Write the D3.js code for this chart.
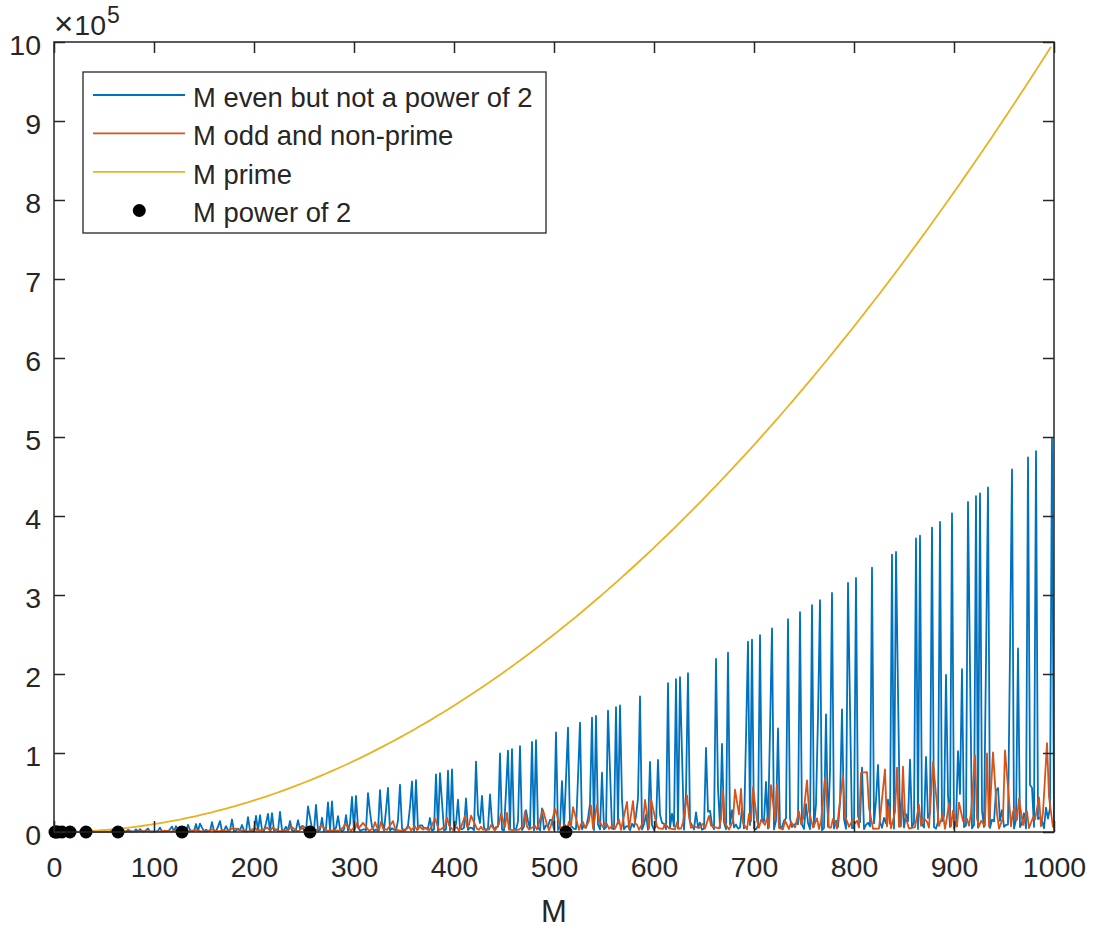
<!DOCTYPE html>
<html><head><meta charset="utf-8">
<script src="https://cdn.jsdelivr.net/npm/d3@7"></script>
<style>
body{margin:0;background:#fff}
svg{display:block}
text{font-family:"Liberation Sans",Arial,Helvetica,sans-serif;fill:#262626}
</style>
</head><body><svg id="chart" width="1093" height="929"></svg>
<script>
// values are in thousands (y axis labelled in units of 10^5)
const evenNotPow2 = [[6,0.0],[10,0.1],[12,0.0],[14,0.1],[18,0.1],[20,0.1],[22,0.2],[24,0.1],[26,0.3],[28,0.2],[30,0.1],[34,0.6],[36,0.1],[38,0.7],[40,0.2],[42,0.2],[44,0.5],[46,1.1],[48,0.1],[50,0.3],[52,0.7],[54,0.2],[56,0.4],[58,1.7],[60,0.3],[62,1.9],[66,0.4],[68,1.2],[70,0.4],[72,0.3],[74,2.7],[76,1.4],[78,0.6],[80,0.4],[82,3.4],[84,0.4],[86,3.7],[88,1.0],[90,0.4],[92,2.1],[94,4.4],[96,0.3],[98,0.8],[100,0.6],
[102,0.9],[104,1.4],[106,5.6],[108,0.5],[110,0.8],[112,0.8],[114,1.1],[116,3.4],[118,7.0],[120,0.6],[122,7.4],[124,3.8],[126,0.6],[130,1.0],[132,0.9],[134,9.0],[136,2.3],[138,1.5],[140,0.9],[142,10.1],[144,0.6],[146,10.7],[148,5.5],[150,0.8],[152,2.9],[154,1.3],[156,1.1],[158,12.5],[160,0.8],[162,0.7],[164,6.7],[166,13.8],[168,0.9],[170,1.4],[172,7.4],[174,2.2],[176,1.9],[178,15.8],[180,0.8],[182,1.6],[184,4.2],[186,2.5],[188,8.8],[190,1.7],[192,0.6],[194,18.8],[196,1.6],[198,1.0],[200,1.2],
[202,20.4],[204,1.8],[206,21.2],[208,2.7],[210,1.1],[212,11.2],[214,22.9],[216,0.9],[218,23.8],[220,1.6],[222,3.4],[224,1.6],[226,25.5],[228,2.1],[230,2.2],[232,6.7],[234,1.3],[236,13.9],[238,2.2],[240,1.1],[242,2.9],[244,14.9],[246,4.1],[248,7.7],[250,1.6],[252,1.2],[254,32.3],[258,4.5],[260,2.0],[262,34.3],[264,1.8],[266,2.6],[268,18.0],[270,1.2],[272,4.6],[274,37.5],[276,2.9],[278,38.6],[280,1.8],[282,5.3],[284,20.2],[286,3.5],[288,1.2],[290,3.1],[292,21.3],[294,1.7],[296,11.0],[298,44.4],[300,1.5],
[302,45.6],[304,5.8],[306,1.8],[308,2.6],[310,3.5],[312,2.3],[314,49.3],[316,25.0],[318,6.6],[320,1.6],[322,3.3],[324,1.4],[326,53.1],[328,13.4],[330,1.8],[332,27.6],[334,55.8],[336,1.8],[338,4.7],[340,2.9],[342,2.1],[344,14.8],[346,59.9],[348,4.4],[350,2.2],[352,3.9],[354,8.0],[356,31.7],[358,64.1],[360,1.6],[362,65.5],[364,3.2],[366,8.5],[368,8.5],[370,4.6],[372,5.0],[374,4.7],[376,17.7],[378,1.7],[380,3.3],[382,73.0],[384,1.2],[386,74.5],[388,37.6],[390,2.2],[392,3.1],[394,77.6],[396,2.1],[398,79.2],[400,2.4],
[402,10.2],[404,40.8],[406,4.5],[408,3.5],[410,5.4],[412,42.4],[414,2.7],[416,5.4],[418,5.3],[420,2.2],[422,89.0],[424,22.5],[426,11.4],[428,45.8],[430,5.8],[432,1.9],[434,5.0],[436,47.5],[438,12.0],[440,3.2],[442,6.3],[444,6.8],[446,99.5],[448,3.1],[450,2.1],[452,51.1],[454,103.1],[456,4.3],[458,104.9],[460,4.4],[462,2.7],[464,13.5],[466,108.6],[468,2.5],[470,6.8],[472,27.8],[474,13.9],[476,4.5],[478,114.2],[480,2.2],[482,116.2],[484,5.8],[486,2.2],[488,29.8],[490,3.2],[492,8.2],[494,7.1],[496,15.4],[498,15.3],[500,3.1],
[502,126.0],[504,2.4],[506,6.6],[508,64.5],[510,3.0],[514,132.1],[516,8.9],[518,6.4],[520,4.0],[522,3.8],[524,68.6],[526,138.3],[528,3.5],[530,8.3],[532,5.2],[534,17.4],[536,35.9],[538,144.7],[540,2.4],[542,146.9],[544,9.2],[546,3.3],[548,75.1],[550,3.5],[552,5.9],[554,153.5],[556,77.3],[558,4.2],[560,3.6],[562,157.9],[564,10.5],[566,160.2],[568,40.3],[570,3.4],[572,7.0],[574,7.4],[576,2.3],[578,10.4],[580,6.3],[582,20.6],[584,42.6],[586,171.7],[588,3.3],[590,9.9],[592,21.9],[594,2.8],[596,88.8],[598,8.8],[600,3.0],
[602,7.9],[604,91.2],[606,22.2],[608,11.6],[610,10.5],[612,3.6],[614,188.5],[616,5.3],[618,23.1],[620,6.9],[622,193.4],[624,4.6],[626,195.9],[628,98.6],[630,3.0],[632,49.9],[634,201.0],[636,13.1],[638,8.7],[640,3.2],[642,24.8],[644,6.6],[646,11.7],[648,2.9],[650,4.2],[652,106.3],[654,25.7],[656,26.9],[658,9.0],[660,3.6],[662,219.1],[664,55.1],[666,5.4],[668,111.6],[670,12.3],[672,3.6],[674,227.1],[676,9.5],[678,27.6],[680,5.7],[682,9.4],[684,4.2],[686,5.6],[688,29.6],[690,4.3],[692,119.7],[694,240.8],[696,8.8],[698,243.6],[700,4.4],
[702,3.4],[704,7.7],[706,249.2],[708,16.0],[710,13.6],[712,63.4],[714,4.4],[716,128.2],[718,257.8],[720,3.3],[722,14.4],[724,131.0],[726,5.1],[728,6.4],[730,14.3],[732,17.1],[734,269.4],[736,16.9],[738,6.3],[740,9.2],[742,10.8],[744,9.9],[746,278.3],[748,9.4],[750,3.8],[752,35.3],[754,11.5],[756,3.5],[758,287.3],[760,6.7],[762,34.5],[764,145.9],[766,293.4],[768,2.3],[770,5.2],[772,149.0],[774,6.8],[776,75.3],[778,302.6],[780,4.3],[782,14.4],[784,6.3],[786,36.7],[788,155.2],[790,16.4],[792,4.1],[794,315.2],[796,158.4],[798,5.0],[800,4.8],
[802,321.6],[804,20.4],[806,12.4],[808,81.6],[810,3.7],[812,9.0],[814,11.7],[816,7.1],[818,334.6],[820,10.8],[822,40.0],[824,84.9],[826,12.7],[828,5.4],[830,17.9],[832,10.8],[834,41.1],[836,10.6],[838,351.1],[840,4.3],[842,354.5],[844,178.1],[846,7.8],[848,44.9],[850,5.7],[852,22.7],[854,13.4],[856,91.6],[858,6.1],[860,11.7],[862,371.5],[864,3.7],[866,375.0],[868,9.9],[870,5.7],[872,95.0],[874,17.7],[876,23.9],[878,385.4],[880,6.3],[882,4.3],[884,12.6],[886,392.5],[888,13.6],[890,20.3],[892,198.9],[894,47.1],[896,6.3],[898,403.2],[900,4.2],
[902,13.3],[904,102.2],[906,48.3],[908,206.1],[910,6.2],[912,8.5],[914,417.7],[916,209.8],[918,4.6],[920,8.8],[922,425.0],[924,5.4],[926,428.7],[928,26.9],[930,6.3],[932,217.2],[934,436.2],[936,5.1],[938,15.5],[940,13.5],[942,52.1],[944,55.7],[946,14.1],[948,27.8],[950,6.4],[952,9.0],[954,9.4],[956,228.5],[958,458.9],[960,4.5],[962,15.2],[964,232.3],[966,6.2],[968,11.6],[970,23.7],[972,4.4],[974,474.3],[976,59.5],[978,56.1],[980,6.5],[982,482.2],[984,16.4],[986,18.4],[988,14.3],[990,4.8],[992,30.8],[994,17.0],[996,30.5],[998,498.0],[1000,6.2]];

const oddNonPrime = [[9,0.0],[15,0.1],[21,0.1],[25,0.2],[27,0.1],[33,0.2],[35,0.2],[39,0.3],[45,0.2],[49,0.4],[51,0.4],[55,0.4],[57,0.5],[63,0.3],[65,0.5],[69,0.7],[75,0.4],[77,0.7],[81,0.4],[85,0.7],[87,1.1],[91,0.8],[93,1.2],[95,0.8],[99,0.5],
[105,0.5],[111,1.7],[115,1.1],[117,0.6],[119,1.1],[121,1.5],[123,2.1],[125,0.8],[129,2.2],[133,1.3],[135,0.6],[141,2.6],[143,1.7],[145,1.6],[147,0.8],[153,0.9],[155,1.7],[159,3.3],[161,1.7],[165,0.9],[169,2.4],[171,1.0],[175,1.1],[177,4.0],[183,4.3],[185,2.3],[187,2.3],[189,0.9],[195,1.1],
[201,5.1],[203,2.3],[205,2.7],[207,1.4],[209,2.7],[213,5.7],[215,2.9],[217,2.5],[219,6.0],[221,3.2],[225,1.1],[231,1.4],[235,3.4],[237,7.0],[243,1.1],[245,1.6],[247,3.6],[249,7.6],[253,3.3],[255,1.5],[259,3.2],[261,1.9],[265,4.1],[267,8.7],[273,1.6],[275,1.8],[279,2.1],[285,1.7],[287,3.7],[289,5.2],[291,10.3],[295,5.0],[297,1.4],[299,4.4],
[301,4.0],[303,11.1],[305,5.2],[309,11.5],[315,1.5],[319,4.4],[321,12.4],[323,5.9],[325,2.1],[327,12.9],[329,4.5],[333,2.7],[335,6.2],[339,13.8],[341,4.7],[343,2.8],[345,2.1],[351,1.7],[355,6.8],[357,2.2],[361,7.2],[363,2.5],[365,7.2],[369,3.2],[371,5.4],[375,1.9],[377,5.7],[381,17.3],[385,2.6],[387,3.4],[391,7.2],[393,18.3],[395,8.2],[399,2.5],
[403,6.2],[405,1.8],[407,5.8],[411,20.0],[413,6.4],[415,9.0],[417,20.6],[423,3.9],[425,2.8],[427,6.7],[429,3.0],[435,2.9],[437,8.8],[441,2.2],[445,10.1],[447,23.5],[451,6.6],[453,24.2],[455,3.1],[459,2.3],[465,3.1],[469,7.8],[471,26.1],[473,7.1],[475,3.2],[477,4.7],[481,7.6],[483,3.1],[485,11.8],[489,28.0],[493,9.2],[495,2.4],[497,8.5],
[501,29.4],[505,12.7],[507,3.9],[511,8.9],[513,2.6],[515,13.2],[517,7.9],[519,31.5],[525,2.7],[527,9.9],[529,12.7],[531,5.6],[533,8.6],[535,14.1],[537,33.7],[539,4.4],[543,34.4],[545,14.6],[549,5.9],[551,11.3],[553,10.1],[555,4.0],[559,9.1],[561,4.0],[565,15.6],[567,2.6],[573,38.2],[575,4.0],[579,39.0],[581,11.0],[583,9.2],[585,2.8],[589,12.2],[591,40.6],[595,4.1],[597,41.4],
[603,6.9],[605,4.5],[609,4.1],[611,10.2],[615,4.6],[621,3.2],[623,12.3],[625,3.9],[627,4.5],[629,12.1],[633,46.4],[635,19.3],[637,5.3],[639,7.6],[645,4.9],[649,10.6],[651,4.4],[655,20.4],[657,8.0],[663,5.2],[665,4.6],[667,16.2],[669,51.7],[671,11.1],[675,3.1],[679,14.2],[681,53.6],[685,22.2],[687,54.5],[689,11.8],[693,3.4],[695,22.8],[697,13.5],[699,56.4],
[703,14.7],[705,5.5],[707,15.2],[711,9.1],[713,17.4],[715,5.3],[717,59.3],[721,15.7],[723,60.3],[725,5.2],[729,3.3],[731,14.3],[735,3.8],[737,12.6],[741,5.8],[745,25.9],[747,9.9],[749,16.7],[753,65.3],[755,26.6],[759,5.6],[763,17.2],[765,3.8],[767,13.5],[771,68.4],[775,5.6],[777,5.5],[779,16.5],[781,13.6],[783,4.2],[785,28.6],[789,71.5],[791,18.3],[793,14.0],[795,6.5],[799,15.8],
[801,11.1],[803,14.2],[805,5.7],[807,74.8],[813,75.9],[815,30.6],[817,17.4],[819,4.1],[825,4.2],[831,79.2],[833,7.0],[835,32.1],[837,4.6],[841,25.2],[843,81.5],[845,6.6],[847,7.4],[849,82.6],[851,20.9],[855,4.3],[861,6.3],[865,34.3],[867,7.8],[869,15.8],[871,15.8],[873,12.9],[875,5.5],[879,88.5],[885,7.6],[889,22.4],[891,4.1],[893,19.2],[895,36.5],[897,7.1],[899,27.0],
[901,18.1],[903,6.7],[905,37.3],[909,13.8],[913,16.9],[915,8.0],[917,23.6],[921,97.0],[923,17.0],[925,6.9],[927,14.3],[931,7.8],[933,99.5],[935,7.0],[939,100.8],[943,23.4],[945,4.3],[949,17.7],[951,103.3],[955,41.3],[957,7.2],[959,25.5],[961,30.8],[963,15.3],[965,42.1],[969,8.8],[973,26.1],[975,5.0],[979,18.7],[981,15.8],[985,43.7],[987,7.5],[989,24.6],[993,112.5],[995,44.6],[999,5.7]];

const primeSeries = [[3,0.0],[5,0.0],[7,0.0],[11,0.1],[13,0.2],[17,0.3],[19,0.4],[23,0.5],[29,0.8],[31,1.0],[37,1.4],[41,1.7],[43,1.8],[47,2.2],[53,2.8],[59,3.5],[61,3.7],[67,4.5],[71,5.0],[73,5.3],[79,6.2],[83,6.9],[89,7.9],[97,9.4],
[101,10.2],[103,10.6],[107,11.4],[109,11.9],[113,12.8],[127,16.1],[131,17.2],[137,18.8],[139,19.3],[149,22.2],[151,22.8],[157,24.6],[163,26.6],[167,27.9],[173,29.9],[179,32.0],[181,32.8],[191,36.5],[193,37.2],[197,38.8],[199,39.6],
[211,44.5],[223,49.7],[227,51.5],[229,52.4],[233,54.3],[239,57.1],[241,58.1],[251,63.0],[257,66.0],[263,69.2],[269,72.4],[271,73.4],[277,76.7],[281,79.0],[283,80.1],[293,85.8],
[307,94.2],[311,96.7],[313,98.0],[317,100.5],[331,109.6],[337,113.6],[347,120.4],[349,121.8],[353,124.6],[359,128.9],[367,134.7],[373,139.1],[379,143.6],[383,146.7],[389,151.3],[397,157.6],
[401,160.8],[409,167.3],[419,175.6],[421,177.2],[431,185.8],[433,187.5],[439,192.7],[443,196.2],[449,201.6],[457,208.8],[461,212.5],[463,214.4],[467,218.1],[479,229.4],[487,237.2],[491,241.1],[499,249.0],
[503,253.0],[509,259.1],[521,271.4],[523,273.5],[541,292.7],[547,299.2],[557,310.2],[563,317.0],[569,323.8],[571,326.0],[577,332.9],[587,344.6],[593,351.6],[599,358.8],
[601,361.2],[607,368.4],[613,375.8],[617,380.7],[619,383.2],[631,398.2],[641,410.9],[643,413.4],[647,418.6],[653,426.4],[659,434.3],[661,436.9],[673,452.9],[677,458.3],[683,466.5],[691,477.5],
[701,491.4],[709,502.7],[719,517.0],[727,528.5],[733,537.3],[739,546.1],[743,552.0],[751,564.0],[757,573.0],[761,579.1],[769,591.4],[773,597.5],[787,619.4],[797,635.2],
[809,654.5],[811,657.7],[821,674.0],[823,677.3],[827,683.9],[829,687.2],[839,703.9],[853,727.6],[857,734.4],[859,737.9],[863,744.8],[877,769.1],[881,776.2],[883,779.7],[887,786.8],
[907,822.6],[911,829.9],[919,844.6],[929,863.0],[937,878.0],[941,885.5],[947,896.8],[953,908.2],[967,935.1],[971,942.8],[977,954.5],[983,966.3],[991,982.1],[997,994.0]];

const powersOf2 = [[1,0],[2,0],[4,0],[8,0],[16,0],[32,0],[64,0],[128,0],[256,0],[512,0]];

const xTicks = [0,100,200,300,400,500,600,700,800,900,1000];
const yTicks = [0,100,200,300,400,500,600,700,800,900,1000];
const yTickLabels = ["0","1","2","3","4","5","6","7","8","9","10"];
const legendLabels = ["M even but not a power of 2","M odd and non-prime","M prime","M power of 2"];
const seriesColors = ["#0072BD","#D95319","#EDB120","#000000"];

const svg = d3.select("#chart");
const x = d3.scaleLinear().domain([0,1000]).range([54,1054]);
const y = d3.scaleLinear().domain([0,1000]).range([832,42]);
const axisColor = "#262626";
const tickFont = 28.5;

svg.append("defs").append("clipPath").attr("id","plotclip")
  .append("rect").attr("x",54).attr("y",40).attr("width",1001).attr("height",794);

// data lines
const line = d3.line().x(d=>x(d[0])).y(d=>y(d[1]));
const plot = svg.append("g").attr("clip-path","url(#plotclip)");
[evenNotPow2, oddNonPrime, primeSeries].forEach((s,i)=>{
  plot.append("path").datum(s).attr("d",line)
    .attr("fill","none").attr("stroke",seriesColors[i])
    .attr("stroke-width",1.8).attr("stroke-linejoin","round");
});
svg.append("g").selectAll("circle").data(powersOf2).join("circle")
  .attr("cx",d=>x(d[0])).attr("cy",d=>y(d[1])).attr("r",6.5).attr("fill","#000");

// axes
function styleAxis(g){
  g.select(".domain").remove();
  g.selectAll(".tick line").attr("stroke",axisColor).attr("stroke-width",1.5);
  g.selectAll(".tick text").attr("font-size",tickFont).attr("font-family",'"Liberation Sans",Arial,sans-serif').attr("fill",axisColor);
}
svg.append("g").attr("transform","translate(0,832)")
  .call(d3.axisBottom(x).tickValues(xTicks).tickSize(-11).tickPadding(25).tickFormat(d3.format("d")))
  .call(styleAxis);
svg.append("g").attr("transform","translate(0,42)")
  .call(d3.axisTop(x).tickValues(xTicks).tickSize(-11).tickFormat(""))
  .call(styleAxis);
svg.append("g").attr("transform","translate(54,0)")
  .call(d3.axisLeft(y).tickValues(yTicks).tickSize(-11).tickPadding(13).tickFormat((d,i)=>yTickLabels[i]))
  .call(styleAxis)
  .selectAll(".tick text").attr("dy","0.44em");
svg.append("g").attr("transform","translate(1054,0)")
  .call(d3.axisRight(y).tickValues(yTicks).tickSize(-11).tickFormat(""))
  .call(styleAxis);

svg.append("rect").attr("x",54).attr("y",42).attr("width",1000).attr("height",790)
  .attr("fill","none").attr("stroke",axisColor).attr("stroke-width",1.5);

// exponent label
const ex = svg.append("text").attr("x",54).attr("y",35).attr("fill",axisColor);
ex.append("tspan").attr("font-size",33).text("\u00D7");
ex.append("tspan").attr("font-size",tickFont).attr("dx",1).text("10");
ex.append("tspan").attr("font-size",23).attr("dx",1).attr("dy",-12).text("5");

// x label
svg.append("text").attr("x",554).attr("y",922).attr("text-anchor","middle")
  .attr("font-size",31).attr("fill",axisColor).text("M");

// legend
const lg = svg.append("g");
lg.append("rect").attr("x",83).attr("y",72).attr("width",463).attr("height",161)
  .attr("fill","#fff").attr("stroke",axisColor).attr("stroke-width",1.3);
const rowY = [95,133.4,171.8,210.5];
legendLabels.forEach((lab,i)=>{
  if(i<3){
    lg.append("line").attr("x1",93).attr("x2",185).attr("y1",rowY[i]).attr("y2",rowY[i])
      .attr("stroke",seriesColors[i]).attr("stroke-width",1.8);
  } else {
    lg.append("circle").attr("cx",139.3).attr("cy",rowY[i]).attr("r",6.5).attr("fill","#000");
  }
  lg.append("text").attr("x",193).attr("y",rowY[i]+11.7).attr("font-size",27.4)
    .attr("fill","#000").text(lab);
});
</script>
</body></html>
